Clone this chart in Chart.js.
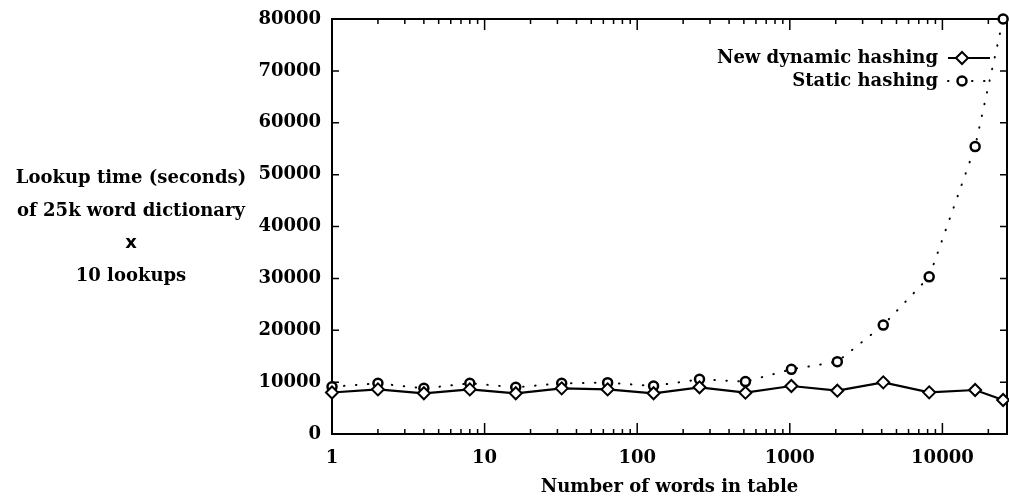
<!DOCTYPE html>
<html>
<head>
<meta charset="utf-8">
<script src="https://cdn.jsdelivr.net/npm/chart.js@4.4.1/dist/chart.umd.min.js"></script>
<style>
  html, body { margin: 0; padding: 0; background: #fff; }
  canvas { display: block; }
</style>
</head>
<body>
<canvas id="hashChart" width="1009" height="498"></canvas>
<script>
// number of words in the table (log axis), last point is the full ~25k dictionary
const tableSizes   = [1, 2, 4, 8, 16, 32, 64, 128, 256, 512, 1024, 2048, 4096, 8192, 16384, 25000];
const dynamicTimes = [8000, 8600, 7850, 8600, 7850, 8800, 8600, 7850, 9000, 7960, 9250, 8350, 9960, 8030, 8480, 6550];
const staticTimes  = [9100, 9770, 8800, 9770, 9000, 9770, 9900, 9250, 10540, 10100, 12470, 13940, 21000, 30300, 55400, 80000];
const xLabelValues = [1, 10, 100, 1000, 10000];
const yTickStep = 10000;
const yMax = 80000;
const xMax = 26500;
const yTitleLines = ['Lookup time (seconds)', 'of 25k word dictionary', 'x', '10 lookups'];

const FONT = '"DejaVu Serif", serif';
const INK = '#000';

function pts(ys) {
    return tableSizes.map((x, i) => ({ x: x, y: ys[i] }));
}

// frame with inward ticks, like the old gnuplot border
const framePlugin = {
    id: 'frame',
    beforeDatasetsDraw(chart) {
        const ctx = chart.ctx, a = chart.chartArea;
        const xs = chart.scales.x, ys = chart.scales.y;
        ctx.save();
        ctx.strokeStyle = INK;
        ctx.lineWidth = 1.5;
        ctx.beginPath();
        for (let v = 0; v <= yMax; v += yTickStep) {
            const y = ys.getPixelForValue(v);
            ctx.moveTo(a.left, y); ctx.lineTo(a.left + 7, y);
            ctx.moveTo(a.right, y); ctx.lineTo(a.right - 7, y);
        }
        for (let d = 1; d <= 10000; d *= 10) {
            for (let m = 1; m <= 9; m++) {
                const v = m * d;
                if (v > xMax) break;
                const x = xs.getPixelForValue(v);
                const len = m === 1 ? 11 : 5;
                ctx.moveTo(x, a.bottom); ctx.lineTo(x, a.bottom - len);
                ctx.moveTo(x, a.top); ctx.lineTo(x, a.top + len);
            }
        }
        ctx.stroke();
        ctx.lineWidth = 2;
        ctx.strokeRect(a.left, a.top, a.right - a.left, a.bottom - a.top);
        ctx.restore();
    },
    afterDraw(chart) {
        const ctx = chart.ctx;
        ctx.save();
        ctx.fillStyle = INK;
        ctx.textAlign = 'center';
        ctx.textBaseline = 'middle';
        const ty = [178, 211, 243, 276];
        yTitleLines.forEach((t, i) => {
            if (t === 'x') ctx.font = 'bold 18px "DejaVu Sans", sans-serif';
            else ctx.font = 'bold 18px ' + FONT;
            ctx.fillText(t, 131, ty[i]);
        });

        // legend: text right aligned, sample on the right
        const rows = [58, 81];
        chart.data.datasets.forEach((ds, i) => {
            const y = rows[i];
            ctx.font = 'bold 18px ' + FONT;
            ctx.textAlign = 'right';
            ctx.fillStyle = INK;
            ctx.fillText(ds.label, 938, y);
            ctx.strokeStyle = INK;
            ctx.lineWidth = ds.borderWidth;
            ctx.setLineDash(ds.borderDash || []);
            ctx.lineCap = ds.borderCapStyle || 'butt';
            ctx.beginPath();
            ctx.moveTo(948, y); ctx.lineTo(990, y);
            ctx.stroke();
            ctx.setLineDash([]);
            const mx = 962;
            ctx.fillStyle = '#fff';
            ctx.lineWidth = ds.pointBorderWidth;
            ctx.beginPath();
            if (ds.pointStyle === 'rectRot') {
                const r = ds.pointRadius;
                ctx.moveTo(mx - r, y); ctx.lineTo(mx, y - r); ctx.lineTo(mx + r, y); ctx.lineTo(mx, y + r);
                ctx.closePath();
            } else {
                ctx.arc(mx, y, ds.pointRadius, 0, Math.PI * 2);
            }
            ctx.fill();
            ctx.stroke();
        });
        ctx.restore();
    }
};

new Chart(document.getElementById('hashChart'), {
    type: 'line',
    data: {
        datasets: [
            {
                label: 'New dynamic hashing',
                data: pts(dynamicTimes),
                borderColor: INK,
                borderWidth: 2.2,
                pointStyle: 'rectRot',
                pointRadius: 6,
                pointBorderWidth: 2,
                pointBackgroundColor: '#fff',
                pointBorderColor: INK,
                tension: 0,
                clip: false,
                order: 0
            },
            {
                label: 'Static hashing',
                data: pts(staticTimes),
                borderColor: INK,
                borderWidth: 2,
                borderDash: [0.5, 11.5],
                borderCapStyle: 'round',
                pointStyle: 'circle',
                pointRadius: 4.5,
                pointBorderWidth: 2.5,
                pointBackgroundColor: '#fff',
                pointBorderColor: INK,
                tension: 0,
                clip: false,
                order: 1
            }
        ]
    },
    options: {
        responsive: false,
        animation: false,
        devicePixelRatio: 1,
        layout: { autoPadding: false, padding: { top: 19, right: 2, left: 0, bottom: 0 } },
        plugins: { legend: { display: false }, tooltip: { enabled: false } },
        scales: {
            x: {
                type: 'logarithmic',
                min: 1,
                max: xMax,
                grid: { display: false, drawTicks: false },
                border: { display: false },
                afterBuildTicks: s => { s.ticks = xLabelValues.map(v => ({ value: v })); },
                afterFit: s => { s.height = 64; s.paddingRight = 0; s.paddingLeft = 0; },
                ticks: {
                    autoSkip: false, maxRotation: 0, padding: 14, color: INK,
                    font: { family: FONT, size: 18, weight: 'bold' },
                    callback: v => String(v)
                },
                title: {
                    display: true, text: 'Number of words in table', color: INK,
                    font: { family: FONT, size: 18, weight: 'bold' },
                    padding: { top: 0, bottom: 0 }
                }
            },
            y: {
                min: 0,
                max: yMax,
                grid: { display: false, drawTicks: false },
                border: { display: false },
                afterFit: s => { s.width = 332; s.paddingTop = 0; s.paddingBottom = 0; },
                ticks: {
                    stepSize: yTickStep, padding: 11, color: INK,
                    font: { family: FONT, size: 18, weight: 'bold' },
                    callback: v => String(v)
                }
            }
        }
    },
    plugins: [framePlugin]
});
</script>
</body>
</html>
